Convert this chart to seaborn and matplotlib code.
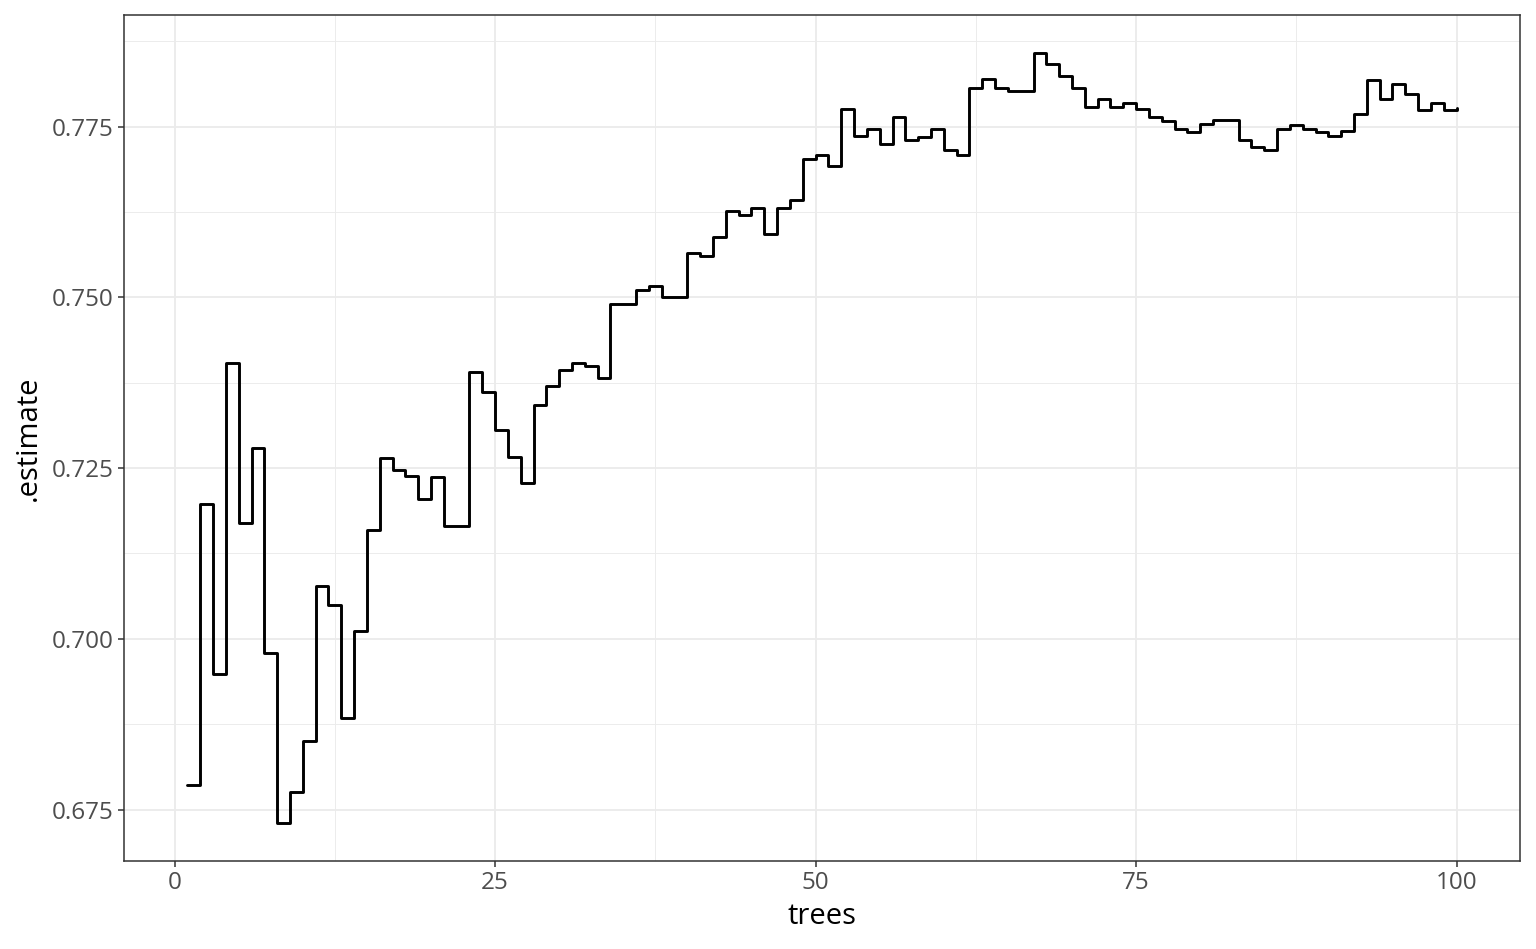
import numpy as np
import pandas as pd
import matplotlib
matplotlib.use("Agg")
import matplotlib.pyplot as plt
from matplotlib.ticker import MultipleLocator, FixedLocator
import seaborn as sns

# number of trees vs. estimate
trees = list(range(1, 101))
estimate = [
    0.6786, 0.7198, 0.6948, 0.7404, 0.7170, 0.7280, 0.6979, 0.6731, 0.6775, 0.6851,
    0.7077, 0.7049, 0.6884, 0.7011, 0.7159, 0.7264, 0.7247, 0.7239, 0.7205, 0.7237,
    0.7165, 0.7165, 0.7390, 0.7362, 0.7305, 0.7266, 0.7228, 0.7343, 0.7370, 0.7393,
    0.7404, 0.7399, 0.7382, 0.7490, 0.7490, 0.7510, 0.7516, 0.7500, 0.7500, 0.7565,
    0.7560, 0.7588, 0.7626, 0.7621, 0.7631, 0.7593, 0.7631, 0.7643, 0.7703, 0.7709,
    0.7692, 0.7775, 0.7736, 0.7747, 0.7725, 0.7764, 0.7731, 0.7735, 0.7747, 0.7715,
    0.7709, 0.7807, 0.7819, 0.7807, 0.7802, 0.7802, 0.7857, 0.7841, 0.7824, 0.7807,
    0.7779, 0.7791, 0.7779, 0.7785, 0.7775, 0.7764, 0.7758, 0.7747, 0.7742, 0.7753,
    0.7759, 0.7759, 0.7731, 0.7720, 0.7715, 0.7747, 0.7752, 0.7747, 0.7742, 0.7736,
    0.7743, 0.7769, 0.7818, 0.7790, 0.7813, 0.7798, 0.7774, 0.7785, 0.7774, 0.7777,
]
x_ticks = [0, 25, 50, 75, 100]
y_ticks = [0.675, 0.700, 0.725, 0.750, 0.775]

df = pd.DataFrame({"trees": trees, ".estimate": estimate})

sns.set_theme(style="white")
plt.rcParams["font.family"] = ["Open Sans", "DejaVu Sans"]

fig = plt.figure(figsize=(15.36, 9.49), dpi=100)
ax = fig.add_axes([124 / 1536, 1 - 861 / 949, (1520 - 124) / 1536, (861 - 15) / 949])

# grid like theme_bw
ax.set_axisbelow(True)
ax.xaxis.set_major_locator(FixedLocator(x_ticks))
ax.yaxis.set_major_locator(FixedLocator(y_ticks))
ax.xaxis.set_minor_locator(MultipleLocator(12.5))
ax.yaxis.set_minor_locator(MultipleLocator(0.0125))
ax.grid(which="major", color="#EBEBEB", linewidth=1.3)
ax.grid(which="minor", color="#EBEBEB", linewidth=0.65)

sns.lineplot(data=df, x="trees", y=".estimate", drawstyle="steps-post",
             color="black", linewidth=2.1, ax=ax, errorbar=None)

ax.margins(x=0.05, y=0.05)

for s in ax.spines.values():
    s.set_color("#333333")
    s.set_linewidth(1.1)

ax.tick_params(which="major", length=4, width=1.1, color="#333333",
               labelsize=17.5, labelcolor="#4D4D4D", pad=3.5,
               bottom=True, left=True)
ax.tick_params(which="minor", length=0)
ax.set_xticklabels([str(t) for t in x_ticks])
ax.set_yticklabels([f"{t:.3f}" for t in y_ticks])

ax.set_xlabel("trees", fontsize=21, color="black", labelpad=5)
ax.set_ylabel(".estimate", fontsize=21, color="black", labelpad=6)

fig.savefig("out.png", dpi=100, facecolor="white")
